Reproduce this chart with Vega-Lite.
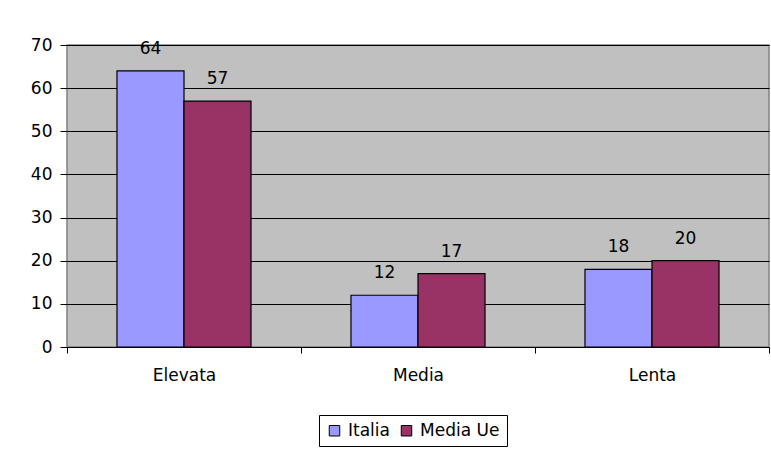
{
  "$schema": "https://vega.github.io/schema/vega-lite/v6.json",
  "width": 702,
  "height": 302,
  "autosize": {"type": "none"},
  "padding": {"left": 67, "top": 45, "right": 2, "bottom": 105},
  "background": "white",
  "config": {
    "font": "DejaVu Sans",
    "view": {"fill": "#C0C0C0", "stroke": "#808080", "strokeWidth": 1.5}
  },
  "data": {
    "values": [
      {"categoria": "Elevata", "serie": "Italia", "valore": 64},
      {"categoria": "Elevata", "serie": "Media Ue", "valore": 57},
      {"categoria": "Media", "serie": "Italia", "valore": 12},
      {"categoria": "Media", "serie": "Media Ue", "valore": 17},
      {"categoria": "Lenta", "serie": "Italia", "valore": 18},
      {"categoria": "Lenta", "serie": "Media Ue", "valore": 20}
    ]
  },
  "encoding": {
    "x": {
      "field": "categoria",
      "type": "nominal",
      "sort": ["Elevata", "Media", "Lenta"],
      "scale": {"paddingInner": 0, "paddingOuter": 0},
      "axis": {
        "title": null,
        "labelAngle": 0,
        "labelFontSize": 17,
        "labelColor": "black",
        "labelPadding": 14,
        "tickBand": "extent",
        "tickColor": "black",
        "tickSize": 6,
        "domainColor": "black",
        "domainWidth": 1,
        "grid": false
      }
    },
    "xOffset": {
      "field": "serie",
      "type": "nominal",
      "sort": ["Italia", "Media Ue"],
      "scale": {"paddingInner": 0, "paddingOuter": 0.746}
    },
    "y": {
      "field": "valore",
      "type": "quantitative",
      "scale": {"domain": [0, 70], "nice": false},
      "axis": {
        "title": null,
        "values": [0, 10, 20, 30, 40, 50, 60, 70],
        "labelFontSize": 17,
        "labelColor": "black",
        "labelPadding": 8,
        "tickColor": "black",
        "tickSize": 7,
        "domain": false,
        "grid": true,
        "gridColor": "black",
        "gridOpacity": 1,
        "gridWidth": 1
      }
    }
  },
  "layer": [
    {
      "mark": {"type": "bar", "stroke": "black", "strokeWidth": 1.2},
      "encoding": {
        "color": {
          "field": "serie",
          "type": "nominal",
          "sort": ["Italia", "Media Ue"],
          "scale": {"domain": ["Italia", "Media Ue"], "range": ["#9999FF", "#993366"]},
          "legend": {
            "title": null,
            "orient": "none",
            "legendX": 252,
            "legendY": 370,
            "direction": "horizontal",
            "strokeColor": "black",
            "fillColor": "white",
            "padding": 7,
            "symbolType": "square",
            "symbolSize": 110,
            "symbolStrokeColor": "black",
            "symbolStrokeWidth": 1,
            "symbolOpacity": 1,
            "labelFontSize": 17,
            "labelColor": "black",
            "labelOffset": 5,
            "columnPadding": 8
          }
        }
      }
    },
    {
      "mark": {"type": "text", "baseline": "alphabetic", "dy": -17, "fontSize": 17, "color": "black"},
      "encoding": {
        "text": {"field": "valore", "type": "quantitative"}
      }
    }
  ]
}
